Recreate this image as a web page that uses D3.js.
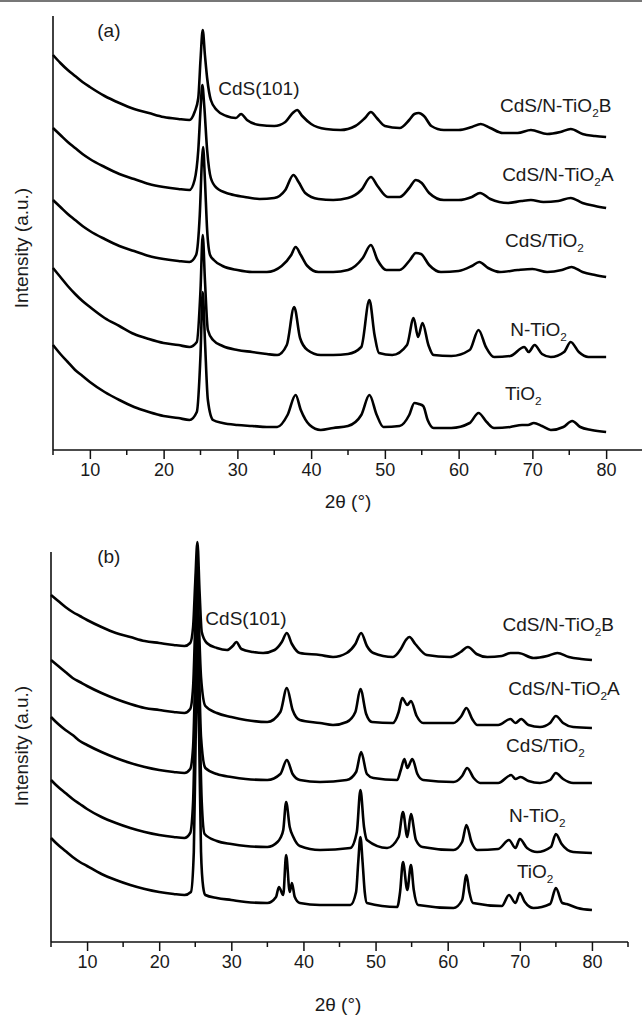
<!DOCTYPE html>
<html>
<head>
<meta charset="utf-8">
<script src="https://cdn.jsdelivr.net/npm/d3@7"></script>
<style>
body{margin:0;background:#fff;}
svg{display:block;}
text{font-family:"Liberation Sans",Arial,sans-serif;fill:#1a1a1a;}
</style>
</head>
<body>
<script>

/** - - - - - - DATA (2theta in degrees, intensity in a.u.)
*/

// panel (a)
var a_cds_ntio2_b = [[5,395],[6,387],[7,380],[8,374],[9,368],[10,363],[12,354],[14,347],[16,341],[18,337],[20,333],[22,331],[23.5,330],[24.2,338],[24.7,352],[25.0,390],[25.3,420],[25.6,395],[25.9,372],[26.4,350],[27.2,340],[28.5,334],[29.8,332],[30.5,336],[31.3,330],[33,325],[35,324],[36.5,328],[37.5,337],[38.1,340],[38.8,334],[40,326],[42,321],[44,320],[46,324],[47.3,332],[48.1,338],[48.9,332],[50,324],[52,322],[53.3,330],[54,336],[54.6,337],[55.3,334],[56.3,324],[58,320],[60,320],[61.8,323],[63,326],[64.3,322],[66,317],[68,317],[69.8,320],[72,316],[73.8,318],[75.2,321],[76.8,316],[78.5,314],[80,313]];
var a_cds_ntio2_a = [[5,322],[6,315],[7,308],[8,302],[9,296],[10,291],[12,283],[14,276],[16,271],[18,266],[20,263],[22,261],[23.5,260],[24.2,270],[24.7,300],[25.0,340],[25.25,365],[25.5,345],[25.9,300],[26.4,272],[27.2,262],[29,256],[31,253],[33,251],[35,252],[36.5,260],[37.6,275],[38.3,268],[39.2,257],[41,251],[43,250],[45,252],[46.8,260],[48.1,273],[49,264],[50.4,253],[52,253],[53.3,262],[54.2,270],[55,267],[56,257],[58,250],[60,250],[61.8,253],[62.9,257],[64.3,251],[66.7,247],[68.5,249],[69.8,250],[71.5,248],[73.5,249],[75.2,252],[76.8,247],[78.5,244],[80,242]];
var a_cds_tio2 = [[5,250],[6,243],[7,236],[8,230],[9,224],[10,219],[12,211],[14,204],[16,199],[18,194],[20,191],[22,189],[23.5,188],[24.4,195],[24.9,235],[25.2,290],[25.35,303],[25.6,270],[25.9,220],[26.3,195],[26.8,190],[28,184],[30,180],[32,178],[34,178],[36,184],[37.3,195],[37.9,203],[38.6,195],[39.5,184],[41,178],[43,178],[45,180],[47,192],[48.1,205],[49,190],[50.2,180],[52,180],[53.4,190],[54.2,197],[54.9,196],[56,185],[57.6,178],[60,179],[61.8,184],[62.8,188],[64,182],[65.6,178],[68,180],[70,181],[72,178],[74,180],[75.3,183],[76.8,178],[78.5,175],[80,173]];
var a_ntio2 = [[5,182],[6,173],[7,164],[8,156],[9,149],[10,143],[12,132],[14,124],[16,116],[18,111],[20,107],[22,105],[23.5,103],[24.5,108],[25.0,160],[25.3,215],[25.6,170],[26.0,120],[26.7,110],[28,104],[30,100],[32,98],[34,96],[35.4,95],[36.7,105],[37.7,143],[38.5,112],[39.5,100],[41.3,95],[43,95],[45,96],[46.8,103],[47.9,150],[48.6,115],[49.2,97],[51,95],[53.0,105],[53.9,132],[54.5,113],[55.1,127],[55.9,105],[56.6,95],[59,94],[61.5,100],[62.7,120],[63.7,103],[64.8,93],[67,94],[68.9,103],[69.5,98],[70.3,105],[71.3,96],[72.5,93],[74.3,98],[75.2,108],[76.3,98],[77.6,93],[80,93]];
var a_tio2 = [[5,105],[6,96],[7,88],[8,80],[9,74],[10,68],[12,58],[14,50],[16,43],[18,38],[20,34],[22,32],[23.5,30],[24.5,38],[25.0,95],[25.3,158],[25.6,110],[26.0,50],[26.7,30],[28,27],[30,25],[32,24],[34,23],[35.4,23],[36.8,35],[37.9,55],[38.6,40],[39.8,25],[41.3,20],[43,22],[45,24],[46.8,35],[47.9,55],[48.9,35],[49.8,23],[52,24],[53.3,35],[54.0,47],[54.6,46],[55.2,44],[55.8,30],[56.6,22],[59,22],[61.5,27],[62.7,37],[63.8,28],[64.8,22],[67,23],[68.6,25],[69.4,25],[70.2,27],[71.3,24],[72.5,20],[74.2,23],[75.4,29],[76.5,23],[78,20],[80,18]];

// panel (b)
var b_cds_ntio2_b = [[5,347],[6,341],[7,335],[8,330],[9,326],[10,322],[12,315],[14,309],[16,305],[18,301],[20,299],[22,297],[23.5,296],[24.3,299],[24.7,315],[25.0,360],[25.3,400],[25.6,350],[25.9,310],[26.6,299],[28,294],[29.4,292],[30.2,296],[30.7,300],[31.4,293],[33,290],[34.4,289],[36,292],[37.0,300],[37.7,309],[38.4,298],[39.5,289],[42.3,287],[44.1,285],[46,289],[47.2,298],[48.0,309],[48.8,296],[49.7,289],[52.4,285],[53.5,293],[54.2,302],[54.7,305],[55.5,298],[57.1,287],[60.3,285],[61.8,290],[62.8,295],[64,288],[65.5,285],[67.5,286],[68.7,289],[69.8,289],[71.9,284],[73.8,286],[75.2,289],[76.8,285],[78.5,283],[80,282]];
var b_cds_ntio2_a = [[5,282],[6,276],[7,270],[8,264],[9,260],[10,256],[12,249],[14,243],[16,238],[18,234],[20,232],[22,230],[23.5,229],[24.3,233],[24.7,255],[25.0,320],[25.2,377],[25.45,330],[25.8,265],[26.4,236],[28,229],[30,225],[32,222],[35,220],[36.8,230],[37.7,254],[38.5,232],[39.5,222],[42.3,219],[44.1,217],[46,220],[47.2,230],[47.9,253],[48.7,228],[49.5,220],[52.4,219],[53.2,230],[53.7,244],[54.4,237],[54.9,241],[55.7,226],[56.6,219],[60.8,219],[61.9,226],[62.6,234],[63.4,223],[64.1,217],[67,217],[68.7,223],[69.4,219],[70.2,223],[71.2,217],[72.8,215],[74.2,219],[75,226],[76,219],[77.4,215],[80,214]];
var b_cds_tio2 = [[5,225],[6,218],[7,212],[8,207],[9,201],[10,197],[12,190],[14,184],[16,179],[18,175],[20,172],[22,170],[23.5,169],[24.3,173],[24.7,195],[25.0,270],[25.25,342],[25.5,280],[25.8,205],[26.4,174],[28,168],[30,165],[32,163],[35,162],[36.8,168],[37.7,182],[38.5,168],[39.5,162],[42.3,160],[46,162],[47.3,170],[48,190],[48.8,168],[49.7,164],[53,162],[53.5,172],[54,183],[54.4,174],[55.1,183],[55.8,168],[56.6,162],[60.8,160],[62,166],[62.7,174],[63.6,164],[64.5,159],[67,159],[68.8,167],[69.4,163],[70.1,165],[71.2,161],[72.8,159],[74.2,162],[75,169],[76,163],[77.4,159],[80,159]];
var b_ntio2 = [[5,162],[6,155],[7,149],[8,143],[9,138],[10,133],[12,125],[14,119],[16,114],[18,110],[20,107],[22,105],[23.5,104],[24.3,109],[24.7,140],[25.0,230],[25.3,312],[25.55,240],[25.9,140],[26.3,108],[28,101],[30,98],[32,96],[35,95],[36.4,100],[36.8,104],[37.2,112],[37.6,140],[38.1,115],[38.6,105],[39.5,96],[42.3,92],[46.5,94],[47.4,110],[47.9,152],[48.4,115],[48.8,102],[51.6,94],[53.2,105],[53.8,130],[54.4,105],[54.9,128],[55.6,102],[56.5,95],[60.8,92],[62,100],[62.6,117],[63.3,100],[64.1,92],[67,93],[68.5,102],[69.4,94],[70,103],[71,94],[72.4,90],[74.3,95],[75,108],[75.8,98],[77.4,90],[80,89]];
var b_tio2 = [[5,104],[6,97],[7,91],[8,85],[9,80],[10,76],[12,68],[14,62],[16,57],[18,53],[20,50],[22,48],[23.5,47],[24.4,50],[24.8,90],[25.05,200],[25.3,282],[25.55,200],[25.8,90],[26.1,55],[26.4,47],[28,44],[30,42],[32,40],[35,39],[36.2,45],[36.6,55],[37.2,47],[37.6,87],[38.1,50],[38.4,59],[38.8,45],[39.5,39],[42.3,37],[46.5,37],[47.3,50],[47.6,80],[47.9,105],[48.2,80],[48.5,50],[48.8,39],[53,35],[53.4,50],[53.8,80],[54.4,52],[54.9,77],[55.3,52],[55.9,37],[60.8,34],[62,42],[62.6,67],[63.0,50],[63.5,39],[67.5,36],[68.5,47],[69.4,39],[70,49],[70.7,40],[71.9,34],[74.2,38],[75,54],[75.9,39],[76.5,38],[78,34],[80,32]];

// sample names: [text, subscript, after]
var sample_labels = [["CdS/N-TiO","2","B"],["CdS/N-TiO","2","A"],["CdS/TiO","2",""],["N-TiO","2",""],["TiO","2",""]];
var x_ticks = [10,20,30,40,50,60,70,80];
var x_minor = [5,15,25,35,45,55,65,75,85];

/* * - - - - - - - - PANEL SETUP
*/

var svg = d3.select("body").append("svg")
  .attr("width", 642)
  .attr("height", 1017);

// thin grey border line at the very top
svg.append("line")
  .attr("x1",0).attr("x2",642).attr("y1",1).attr("y2",1)
  .attr("stroke","#777").attr("stroke-width",2);

var panels = [
  {tag:"(a)", series:[a_cds_ntio2_b,a_cds_ntio2_a,a_cds_tio2,a_ntio2,a_tio2],
   left:53, right:643, top:16, bottom:450, ymax:434,
   tagPos:[11.0,413], cdsPos:[27.4,355],
   labelPos:[[65.6,338],[65.9,269],[66.3,203],[67.0,114],[66.3,50]],
   titleX:348, titleY:508, yTitleY:248},
  {tag:"(b)", series:[b_cds_ntio2_b,b_cds_ntio2_a,b_cds_tio2,b_ntio2,b_tio2],
   left:51, right:628, top:552, bottom:942, ymax:390,
   tagPos:[11.4,379], cdsPos:[26.4,317],
   labelPos:[[67.6,311],[68.4,247],[68.1,190],[68.5,120],[69.6,64]],
   titleX:338, titleY:1011, yTitleY:746}
];

panels.forEach(function(p){
  draw_panel(p);
});

function add_label(sel, parts, size){
  sel.append("tspan").text(parts[0]);
  if (parts[1]){
    sel.append("tspan").attr("font-size", size*0.62).attr("dy", 5).text(parts[1]);
    if (parts[2]){
      sel.append("tspan").attr("dy", -5).text(parts[2]);
    }
  }
}

function draw_panel(p){

  var x = d3.scaleLinear().domain([5,85]).range([p.left,p.right]);
  var y = d3.scaleLinear().domain([0,p.ymax]).range([p.bottom,p.top]);

  var g = svg.append("g");

  // x axis: major ticks
  var xAxis = d3.axisBottom(x).tickValues(x_ticks).tickSize(9).tickPadding(4)
    .tickFormat(d3.format("d"));
  var ax = g.append("g")
    .attr("transform","translate(0,"+p.bottom+")")
    .call(xAxis);
  ax.select(".domain").remove();
  ax.selectAll(".tick line").attr("stroke","#111").attr("stroke-width",1.5);
  ax.selectAll(".tick text")
    .attr("font-size",18)
    .attr("font-family","'Liberation Sans',Arial,sans-serif")
    .attr("fill","#1a1a1a");

  // minor ticks
  g.selectAll(".minor")
    .data(x_minor)
    .enter().append("line")
    .attr("class","minor")
    .attr("x1",function(d){ return x(d); })
    .attr("x2",function(d){ return x(d); })
    .attr("y1",p.bottom)
    .attr("y2",p.bottom+5)
    .attr("stroke","#111").attr("stroke-width",1.5);

  // axis lines
  g.append("line")
    .attr("x1",x(5)).attr("x2",x(85))
    .attr("y1",p.bottom).attr("y2",p.bottom)
    .attr("stroke","#111").attr("stroke-width",1.6);
  g.append("line")
    .attr("x1",x(5)).attr("x2",x(5))
    .attr("y1",p.top).attr("y2",p.bottom)
    .attr("stroke","#111").attr("stroke-width",1.6);

  // patterns
  var line = d3.line()
    .x(function(d){ return x(d[0]); })
    .y(function(d){ return y(d[1]); })
    .curve(d3.curveMonotoneX);

  g.selectAll(".pattern")
    .data(p.series)
    .enter().append("path")
    .attr("class","pattern")
    .attr("d", line)
    .attr("fill","none")
    .attr("stroke","#000")
    .attr("stroke-width",2.6)
    .attr("stroke-linejoin","round");

  // sample labels
  p.labelPos.forEach(function(pos,i){
    var t = g.append("text")
      .attr("x",x(pos[0])).attr("y",y(pos[1]))
      .attr("font-size",19);
    add_label(t, sample_labels[i], 19);
  });

  g.append("text")
    .attr("x",x(p.cdsPos[0])).attr("y",y(p.cdsPos[1]))
    .attr("font-size",19)
    .text("CdS(101)");

  g.append("text")
    .attr("x",x(p.tagPos[0])).attr("y",y(p.tagPos[1]))
    .attr("font-size",19)
    .text(p.tag);

  // axis titles
  g.append("text")
    .attr("x",p.titleX).attr("y",p.titleY)
    .attr("text-anchor","middle")
    .attr("font-size",19)
    .text("2\u03b8 (\u00b0)");

  g.append("text")
    .attr("transform","translate(28,"+p.yTitleY+") rotate(-90)")
    .attr("text-anchor","middle")
    .attr("font-size",19)
    .text("Intensity (a.u.)");
}

</script>
</body>
</html>
